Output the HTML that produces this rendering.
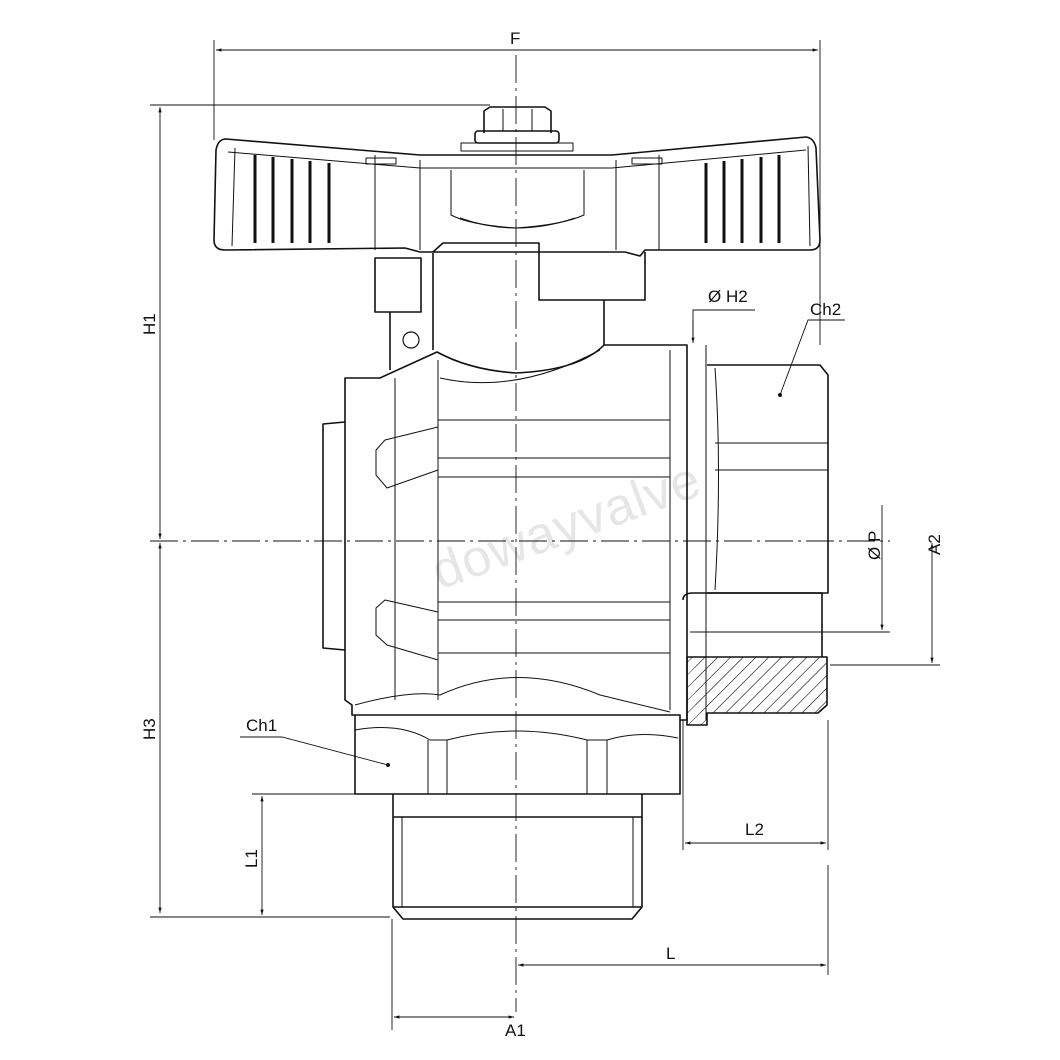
<!DOCTYPE html>
<html><head><meta charset="utf-8"><style>
html,body{margin:0;padding:0;background:#fff;}
svg{display:block;}
text{font-family:"Liberation Sans",sans-serif;font-size:17px;fill:#111;}
</style></head><body>
<svg width="1060" height="1060" viewBox="0 0 1060 1060" xmlns="http://www.w3.org/2000/svg">
<defs>
<marker id="a" viewBox="0 0 10 10" refX="10" refY="5" markerWidth="10" markerHeight="6" orient="auto-start-reverse"><path d="M0,2 L10,5 L0,8 z" fill="#111"/></marker>
<pattern id="h" width="9" height="9" patternUnits="userSpaceOnUse" patternTransform="rotate(45)"><line x1="0" y1="0" x2="0" y2="9" stroke="#222" stroke-width="1"/></pattern>
</defs>
<rect width="1060" height="1060" fill="#fff"/>
<text x="0" y="0" transform="translate(440,590) rotate(-20)" style="font-size:52px;fill:#e6e6e6;letter-spacing:1px">dowayvalve</text>

<g stroke="#111" fill="none" stroke-width="0.9">
<line x1="516" y1="55" x2="516" y2="1012" stroke-dasharray="28,5,3,5"/>
<line x1="150" y1="541" x2="890" y2="541" stroke-dasharray="28,5,3,5"/>
<line x1="214" y1="40" x2="214" y2="140"/><line x1="820" y1="40" x2="820" y2="345"/>
<line x1="216" y1="50" x2="818" y2="50" marker-start="url(#a)" marker-end="url(#a)"/>
<line x1="150" y1="105" x2="490" y2="105"/>
<line x1="160" y1="107" x2="160" y2="539" marker-start="url(#a)" marker-end="url(#a)"/>
<line x1="160" y1="543" x2="160" y2="913" marker-start="url(#a)" marker-end="url(#a)"/>
<line x1="150" y1="917" x2="390" y2="917"/>
<line x1="252" y1="794" x2="395" y2="794"/>
<line x1="262" y1="796" x2="262" y2="915" marker-start="url(#a)" marker-end="url(#a)"/>
<line x1="392" y1="919" x2="392" y2="1030"/>
<line x1="394" y1="1017" x2="514" y2="1017" marker-start="url(#a)" marker-end="url(#a)"/>
<line x1="828" y1="865" x2="828" y2="975"/>
<line x1="518" y1="965" x2="826" y2="965" marker-start="url(#a)" marker-end="url(#a)"/>
<line x1="683" y1="720" x2="683" y2="850"/>
<line x1="828" y1="720" x2="828" y2="850"/>
<line x1="685" y1="843" x2="826" y2="843" marker-start="url(#a)" marker-end="url(#a)"/>
<line x1="830" y1="665" x2="940" y2="665"/>
<line x1="932" y1="543" x2="932" y2="663" marker-start="url(#a)" marker-end="url(#a)"/>
<line x1="690" y1="632" x2="890" y2="632"/>
<line x1="882" y1="505" x2="882" y2="630" marker-end="url(#a)"/>
<polyline points="755,310 710,310 693,310 693,343" />
<line x1="693" y1="320" x2="693" y2="343" marker-end="url(#a)"/>
<polyline points="845,320 808,320 780,395"/>
<polyline points="240,737 282,737 388,765"/>
</g>
<circle cx="780" cy="395" r="2" fill="#111"/><circle cx="388" cy="765" r="2" fill="#111"/>
<text x="510" y="44">F</text>
<text transform="translate(155,335) rotate(-90)">H1</text>
<text transform="translate(155,740) rotate(-90)">H3</text>
<text transform="translate(257,868) rotate(-90)">L1</text>
<text x="505" y="1036">A1</text>
<text x="666" y="959">L</text>
<text x="745" y="835">L2</text>
<text transform="translate(940,555) rotate(-90)">A2</text>
<text transform="translate(880,560) rotate(-90)">Ø P</text>
<text x="708" y="302">Ø H2</text>
<text x="810" y="315">Ch2</text>
<text x="246" y="731">Ch1</text>

<g stroke="#111" fill="none" stroke-width="1.6" stroke-linejoin="round">
<path d="M226,139 L420,155 L612,155 L806,137 Q814,138 816,148 L820,240 Q820,250 810,250 L645,250 L640,256 L625,252 L420,252 L405,248 L225,250 Q214,250 214,240 L216,150 Q218,139 226,139 Z"/>
<g stroke-width="1">
<line x1="235" y1="148" x2="232" y2="246"/><line x1="808" y1="146" x2="810" y2="246"/>
<line x1="375" y1="155" x2="375" y2="250"/><line x1="659" y1="155" x2="659" y2="250"/>
<line x1="420" y1="160" x2="420" y2="250"/><line x1="616" y1="160" x2="616" y2="250"/>
<path d="M228,152 L420,168 L612,168 L806,150"/>
<path d="M451,170 L451,215 Q470,225 516,228 Q562,225 584,215 L584,170"/>
<path d="M460,218 Q516,238 575,218"/>
<rect x="461" y="143" width="112" height="8"/>
<rect x="366" y="158" width="30" height="6"/><rect x="632" y="158" width="30" height="6"/>
</g>
<rect x="475" y="131" width="84" height="12" rx="3"/>
<path d="M484,133 L484,111 L490,107 L545,107 L551,111 L551,133"/>
<line x1="503" y1="109" x2="503" y2="131" stroke-width="1"/><line x1="532" y1="109" x2="532" y2="131" stroke-width="1"/>
<g stroke-width="3">
<line x1="255" y1="155" x2="255" y2="243"/><line x1="273" y1="157" x2="273" y2="243"/><line x1="292" y1="159" x2="292" y2="243"/><line x1="310" y1="161" x2="310" y2="243"/><line x1="329" y1="163" x2="329" y2="243"/>
<line x1="706" y1="163" x2="706" y2="243"/><line x1="724" y1="161" x2="724" y2="243"/><line x1="742" y1="159" x2="742" y2="243"/><line x1="761" y1="157" x2="761" y2="243"/><line x1="779" y1="155" x2="779" y2="243"/>
</g>
<path d="M433,252 L443,243 L539,243 L539,300 L645,300 L645,252"/>
<line x1="604" y1="300" x2="604" y2="345"/>
<rect x="375" y="258" width="46" height="54"/>
<line x1="433" y1="253" x2="433" y2="350"/>
<line x1="390" y1="312" x2="390" y2="370"/>
<circle cx="411" cy="340" r="8" stroke-width="1.2"/>
<path d="M345,378 L380,378 L437,352 Q470,370 516,373 Q580,370 604,345 L687,345 L687,720 L680,720 L680,715 L352,715 L352,705 L345,700 Z"/>
<path d="M345,422 L323,424 L323,648 L345,650" />
<g stroke-width="1">
<path d="M395,378 L395,700"/>
<path d="M438,360 L438,700"/>
<path d="M670,350 L670,710"/>
<line x1="706" y1="345" x2="706" y2="720"/>
<path d="M440,378 Q516,395 600,350"/>
<line x1="438" y1="420" x2="670" y2="420"/><line x1="438" y1="458" x2="670" y2="458"/><line x1="438" y1="477" x2="670" y2="477"/>
<line x1="438" y1="602" x2="670" y2="602"/><line x1="438" y1="620" x2="670" y2="620"/><line x1="438" y1="653" x2="670" y2="653"/>
<path d="M438,427 L385,440 L376,450 L376,475 L387,488 L438,470"/>
<path d="M438,612 L385,600 L376,608 L376,635 L387,645 L438,660"/>
<path d="M355,705 Q410,690 440,695 Q516,660 600,695 L670,712"/>
<path d="M355,730 Q400,722 430,740 L447,740 Q516,722 587,740 L607,740 Q640,730 678,738"/>
</g>
<path d="M707,365 L820,365 L828,375 L828,593 L707,593"/>
<g stroke-width="1"><line x1="715" y1="443" x2="828" y2="443"/><line x1="715" y1="470" x2="828" y2="470"/><path d="M715,368 Q722,470 715,590"/></g>
<path d="M683,600 Q683,593 693,593 L822,593 L822,657"/>
<rect x="695" y="657" width="132" height="56" fill="url(#h)" stroke="none"/>
<path d="M687,657 L827,657 L827,705 L818,713 L707,713 L707,725 L687,725 Z" fill="url(#h)"/>
<line x1="706" y1="600" x2="706" y2="657" stroke-width="1"/>
<path d="M355,715 L355,794 L680,794 L680,720"/>
<g stroke-width="1"><line x1="428" y1="740" x2="428" y2="794"/><line x1="447" y1="740" x2="447" y2="794"/><line x1="587" y1="740" x2="587" y2="794"/><line x1="607" y1="740" x2="607" y2="794"/></g>
<path d="M393,794 L393,907 L403,919 L632,919 L642,907 L642,794"/>
<line x1="393" y1="817" x2="642" y2="817"/>
<line x1="393" y1="907" x2="642" y2="907"/>
<g stroke-width="1"><line x1="402" y1="817" x2="402" y2="907"/><line x1="633" y1="817" x2="633" y2="907"/></g>
</g>
</svg>
</body></html>
